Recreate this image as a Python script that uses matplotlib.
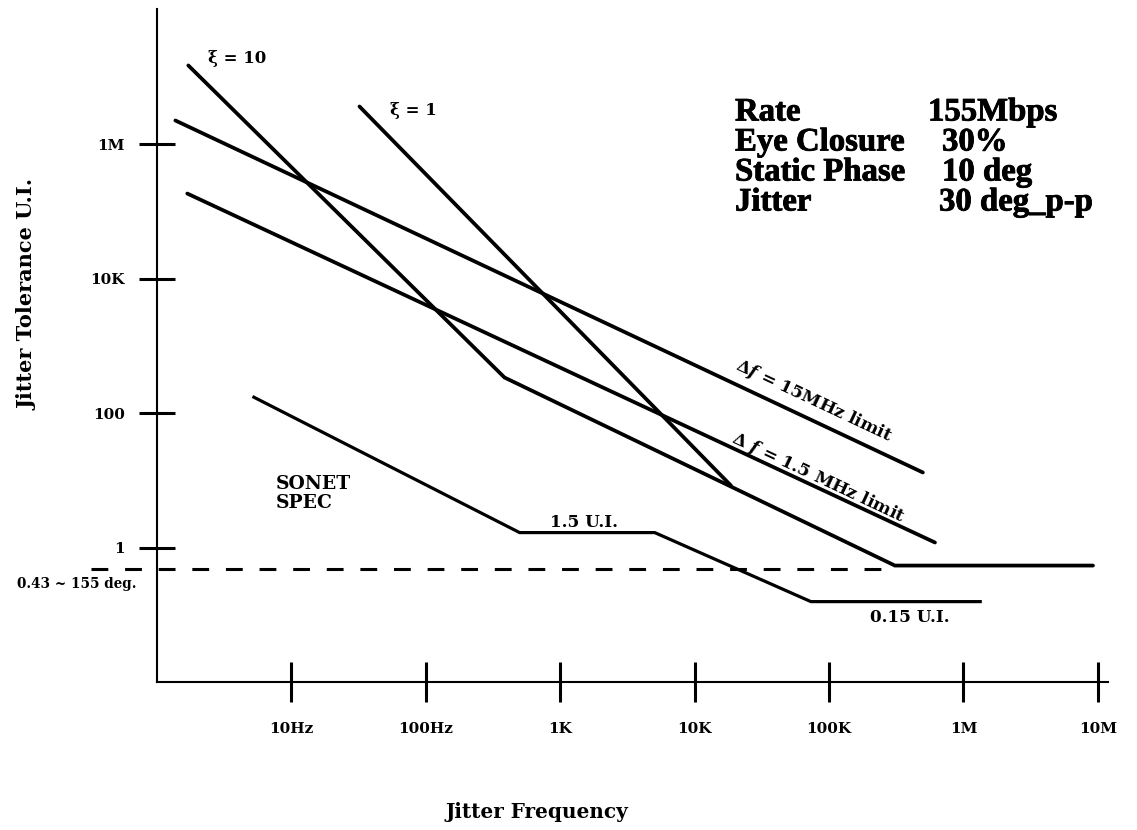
import matplotlib
matplotlib.use("Agg")
import matplotlib.pyplot as plt
import matplotlib.patheffects as pe
from matplotlib import font_manager as fm
import numpy as np

# ---- data ----
xi10_f = [1.71, 385, 3.09e5, 9.2e6]
xi10_u = [1.49e7, 339, 0.54, 0.54]

xi1_f = [32.1, 1.86e4]
xi1_u = [3.65e6, 8.4]

lim15_f = [1.37, 4.99e5]
lim15_u = [2.26e6, 13.1]

lim1p5_f = [1.68, 6.14e5]
lim1p5_u = [1.85e5, 1.19]

sonet_f = [5.13, 499, 5050, 7.33e4, 1.37e6]
sonet_u = [177, 1.67, 1.67, 0.157, 0.157]

dash_f = [0.324, 2.98e5]
dash_u = [0.487, 0.487]

x_ticks = [10, 100, 1e3, 1e4, 1e5, 1e6, 1e7]
x_ticklabels = ["10Hz", "100Hz", "1K", "10K", "100K", "1M", "10M"]
y_ticks = [1, 100, 1e4, 1e6]
y_ticklabels = ["1", "100", "10K", "1M"]

info_labels = ["Rate", "Eye Closure", "Static Phase", "Jitter"]
info_values = ["155Mbps", "30%", "10 deg", "30 deg_p-p"]

plt.rcParams['mathtext.fontset'] = 'custom'
plt.rcParams['mathtext.rm'] = 'DejaVu Serif:bold'
plt.rcParams['mathtext.it'] = 'DejaVu Serif:italic:bold'

SERIF = 'DejaVu Serif'
TIMES = 'Liberation Serif'

# is a real bold face of the Times-like font available?
_path = fm.findfont(fm.FontProperties(family=TIMES, weight='bold'), fallback_to_default=False)
times_bold = 'bold' in _path.lower()

W, H = 1137, 830
fig = plt.figure(figsize=(W / 100, H / 100), dpi=100)
L, R, T, B = 157, 1108, 9, 682
ax = fig.add_axes([L / W, 1 - B / H, (R - L) / W, (B - T) / H])
ax.set_xscale('log')
ax.set_yscale('log')
ax.set_xlim(1, 1.19e7)
ax.set_ylim(1e-2, 1.03e8)

for s in ['top', 'right']:
    ax.spines[s].set_visible(False)
for s in ['left', 'bottom']:
    ax.spines[s].set_linewidth(1.5)

lw = 2.7
kw = dict(color='black', lw=lw, solid_capstyle='round', solid_joinstyle='miter')
ax.plot(xi10_f, xi10_u, **kw)
ax.plot(xi1_f, xi1_u, **kw)
ax.plot(lim15_f, lim15_u, **kw)
ax.plot(lim1p5_f, lim1p5_u, **kw)
ax.plot(sonet_f, sonet_u, color='black', lw=2.3, solid_capstyle='butt', solid_joinstyle='miter')
ax.plot(dash_f, dash_u, color='black', lw=2.2, dashes=(5.5, 5.5), clip_on=False)

ax.set_xticks(x_ticks)
ax.set_xticklabels(x_ticklabels, fontfamily=SERIF, fontweight='bold', fontsize=11)
ax.set_yticks(y_ticks)
ax.set_yticklabels(y_ticklabels, fontfamily=SERIF, fontweight='bold', fontsize=11)
ax.minorticks_off()
ax.tick_params(axis='x', direction='inout', length=29, width=2.2, pad=14)
ax.tick_params(axis='y', direction='inout', length=26, width=2.2, pad=10)

ax.set_xlabel("Jitter Frequency", fontfamily=SERIF, fontweight='bold', fontsize=14.4, va='center')
ax.xaxis.set_label_coords((537 - L) / (R - L), (B - 812) / (B - T))
ax.set_ylabel("Jitter Tolerance U.I.", fontfamily=SERIF, fontweight='bold', fontsize=15, va='center')
ax.yaxis.set_label_coords((28 - L) / (R - L), (B - 294) / (B - T))

tkw = dict(fontfamily=SERIF, fontweight='bold', color='black')
ax.text(3.96, 1.89e7, "ξ = 10", fontsize=12, ha='center', va='center', **tkw)
ax.text(80.9, 3.18e6, "ξ = 1", fontsize=12, ha='center', va='center', **tkw)
ax.text(1493, 2.36, "1.5 U.I.", fontsize=12.2, ha='center', va='center', **tkw)
ax.text(4.0e5, 0.0908, "0.15 U.I.", fontsize=12.2, ha='center', va='center', **tkw)
ax.text(7.6, 6.36, "SONET\nSPEC", fontsize=13.5, ha='left', va='center', linespacing=1.1, **tkw)
ax.text(0.255, 0.291, "0.43 ~ 155 deg.", fontsize=9.8, ha='center', va='center', clip_on=False, **tkw)

ax.text(7.7e4, 150, r"$\Delta f$ = 15MHz limit", fontsize=12.5, rotation=-25.2,
        rotation_mode='anchor', ha='center', va='center', **tkw)
ax.text(8.3e4, 10.8, r"$\Delta\ f$ = 1.5 MHz limit", fontsize=12.5, rotation=-25.2,
        rotation_mode='anchor', ha='center', va='center', **tkw)

# info block
if times_bold:
    info_size, info_fx = 23.6, [pe.withStroke(linewidth=0.6, foreground='black')]
else:
    info_size, info_fx = 24.7, [pe.withStroke(linewidth=1.6, foreground='black')]
rows_y = [112, 142, 172, 202]
val_x = [928, 942, 942, 939]
for lab, val, py, vx in zip(info_labels, info_values, rows_y, val_x):
    t1 = ax.text((735 - L) / (R - L), (B - py) / (B - T), lab, transform=ax.transAxes,
                 fontfamily=TIMES, fontweight='bold', fontsize=info_size, ha='left', va='center')
    t2 = ax.text((vx - L) / (R - L), (B - py) / (B - T), val, transform=ax.transAxes,
                 fontfamily=TIMES, fontweight='bold', fontsize=info_size, ha='left', va='center')
    t1.set_path_effects(info_fx)
    t2.set_path_effects(info_fx)

fig.savefig("out.png", dpi=100)
